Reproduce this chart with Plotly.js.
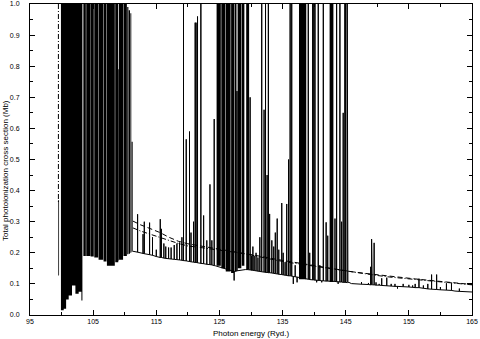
<!DOCTYPE html>
<html>
<head>
<meta charset="utf-8">
<script src="https://cdn.plot.ly/plotly-3.0.1.min.js"></script>
<style>
  html, body { margin: 0; padding: 0; background: #fff; }
  #chart { width: 480px; height: 339px; }
</style>
</head>
<body>
<div id="chart"></div>
<script>
// Dense, unresolved resonance clusters (drawn as solid black): energy span, bottom and top
const bandFrom = [99.48, 99.90, 100.34, 100.72, 101.13, 101.65, 102.19, 102.71, 103.14,
  103.45, 103.91, 104.60, 105.18, 105.86, 106.65, 107.18, 108.50, 109.00, 109.10, 109.81,
  110.40, 110.64, 110.90, 111.10, 124.55, 125.30, 126.00, 126.85, 127.40, 127.88, 128.55,
  129.25, 137.60, 142.45];
const bandTo = [99.60, 100.34, 100.72, 101.13, 101.65, 102.19, 102.71, 103.14, 103.30,
  103.84, 104.55, 105.10, 105.79, 106.58, 107.11, 108.43, 108.98, 109.08, 109.74, 110.34,
  110.58, 110.84, 111.04, 111.26, 125.22, 125.92, 126.77, 127.32, 127.70, 128.47, 128.95,
  129.70, 138.75, 143.05];
const bandLow = [0.127, 0.015, 0.02, 0.05, 0.063, 0.095, 0.068, 0.075, 0.047,
  0.19, 0.19, 0.188, 0.185, 0.178, 0.172, 0.158, 0.17, 0.175, 0.178, 0.19,
  0.195, 0.197, 0.2, 0.203, 0.158, 0.15, 0.14, 0.135, 0.14, 0.15, 0.158,
  0.146, 0.115, 0.106];
const bandHigh = [0.37, 1, 1, 1, 1, 1, 1, 1, 1,
  1, 1, 1, 1, 1, 1, 1, 1, 0.79, 1, 1,
  0.99, 0.98, 0.97, 0.557, 1, 1, 1, 1, 1, 1, 1,
  1, 1, 1];

// Solid curve: energy, background under the line, tip of the resonance
const solidE = [111.3, 112.04, 112.9, 113.1, 113.94, 114.4, 115.0, 115.63, 115.8, 116.2,
  116.5, 116.95, 117.35, 117.84, 118.27, 118.68, 119.06, 119.31, 119.74, 120.26,
  120.5, 120.9, 121.16, 121.3, 121.53, 122.06, 122.5, 123.0, 123.5, 123.8,
  124.17, 124.4, 127.33, 127.78, 129.1, 129.43, 129.86, 130.1, 130.3, 130.5,
  130.8, 131.1, 131.4, 131.7, 132.07, 132.3, 132.55, 132.75, 132.95, 133.3,
  133.6, 133.85, 134.15, 134.4, 134.87, 135.1, 135.4, 135.66, 135.95, 136.2,
  136.45, 136.7, 137.0, 137.3, 139.07, 139.3, 139.77, 139.95, 140.13, 140.4,
  140.65, 140.9, 141.2, 141.45, 141.9, 142.15, 143.3, 143.56, 143.8, 144.08,
  144.35, 144.6, 144.87, 145.0, 145.24, 145.35, 145.5, 145.9, 147.5, 148.6,
  148.95, 149.1, 149.2, 149.5, 149.8, 150.3, 150.7, 151.5, 152.2, 152.8,
  153.2, 154.1, 155.0, 155.6, 156.0, 156.6, 157.3, 158.0, 158.6, 159.4,
  160.0, 160.95, 161.75, 162.3, 163.0, 165.0];
const solidLow = [0.205, 0.202, 0.198, 0.197, 0.194, 0.192, 0.188, 0.185, 0.185, 0.183,
  0.182, 0.181, 0.180, 0.179, 0.178, 0.177, 0.176, 0.175, 0.174, 0.172,
  0.171, 0.170, 0.169, 0.169, 0.168, 0.166, 0.165, 0.163, 0.162, 0.161,
  0.159, 0.158, 0.140, 0.142, 0.146, 0.146, 0.145, 0.144, 0.144, 0.143,
  0.142, 0.141, 0.140, 0.139, 0.138, 0.137, 0.137, 0.136, 0.136, 0.135,
  0.134, 0.133, 0.132, 0.131, 0.130, 0.129, 0.128, 0.127, 0.126, 0.126,
  0.125, 0.124, 0.123, 0.122, 0.115, 0.114, 0.113, 0.113, 0.112, 0.112,
  0.111, 0.111, 0.110, 0.110, 0.109, 0.109, 0.108, 0.107, 0.107, 0.106,
  0.106, 0.105, 0.105, 0.105, 0.104, 0.104, 0.105, 0.101, 0.099, 0.098,
  0.097, 0.097, 0.097, 0.097, 0.096, 0.096, 0.095, 0.094, 0.093, 0.092,
  0.092, 0.091, 0.090, 0.089, 0.088, 0.088, 0.086, 0.084, 0.083, 0.082,
  0.081, 0.080, 0.079, 0.077, 0.076, 0.074];
const solidHigh = [0.205, 0.324, 0.26, 0.30, 0.297, 0.25, 0.21, 0.308, 0.277, 0.23,
  0.22, 0.217, 0.217, 0.225, 0.23, 0.233, 0.25, 1.0, 0.565, 0.59,
  0.265, 0.30, 0.94, 0.94, 0.96, 1.0, 0.32, 0.24, 0.42, 0.24,
  0.63, 0.158, 0.111, 0.72, 0.146, 1.0, 0.70, 0.19, 0.22, 0.19,
  0.20, 0.185, 0.25, 1.0, 0.66, 1.0, 0.45, 1.0, 0.325, 0.24,
  0.22, 0.265, 0.31, 0.21, 0.36, 0.20, 0.17, 0.357, 0.5, 1.0,
  1.0, 0.10, 0.16, 0.105, 1.0, 0.2, 1.0, 1.0, 1.0, 0.105,
  1.0, 0.16, 0.105, 1.0, 0.298, 0.255, 0.31, 1.0, 0.10, 1.0,
  0.30, 0.65, 1.0, 1.0, 1.0, 1.0, 0.105, 0.101, 0.106, 0.103,
  0.155, 0.244, 0.13, 0.232, 0.105, 0.10, 0.118, 0.12, 0.10, 0.10,
  0.085, 0.10, 0.097, 0.095, 0.10, 0.117, 0.095, 0.10, 0.13, 0.13,
  0.09, 0.102, 0.102, 0.077, 0.085, 0.074];

// Dashed curve (hidden inside the black cluster below 111 Ryd)
const dashE = [111.3, 111.5, 112.5, 114, 115.6, 117, 118.5, 120, 122, 124, 126, 128, 130,
  132, 134, 136, 138, 140, 142, 144, 146, 148, 150, 152, 154, 156, 158, 160, 162, 164, 165];
const dashY = [0.302, 0.30, 0.29, 0.278, 0.265, 0.25, 0.237, 0.229, 0.222, 0.216, 0.21,
  0.203, 0.196, 0.187, 0.179, 0.172, 0.166, 0.16, 0.153, 0.146, 0.139, 0.134, 0.129,
  0.124, 0.12, 0.116, 0.112, 0.108, 0.104, 0.1, 0.098];

// Dash-dot curve (its first resonance at 99.5 Ryd, then the visible background)
const dotE = [99.5, 99.5, null, 111.3, 111.5, 112.5, 114, 115.6, 117, 118.5, 120, 122, 124,
  126, 128, 130, 132, 134, 136, 138, 140, 142, 144, 146, 148, 150, 152, 154, 156, 158,
  160, 162, 164, 165];
const dotY = [1.0, 0.36, null, 0.28, 0.278, 0.27, 0.26, 0.248, 0.24, 0.23, 0.222, 0.217,
  0.212, 0.206, 0.2, 0.193, 0.184, 0.176, 0.169, 0.163, 0.157, 0.15, 0.143, 0.137, 0.132,
  0.127, 0.122, 0.118, 0.114, 0.11, 0.106, 0.102, 0.099, 0.097];

// tick positions
const xTicks = [95, 105, 115, 125, 135, 145, 155, 165];
const yTicks = [0, 0.1, 0.2, 0.3, 0.4, 0.5, 0.6, 0.7, 0.8, 0.9, 1.0];
const yTickText = ['0.0', '0.1', '0.2', '0.3', '0.4', '0.5', '0.6', '0.7', '0.8', '0.9', '1.0'];

// build the filled blocks, one closed rectangle per cluster
const bx = [], by = [];
bandFrom.forEach((e0, i) => {
  const e1 = bandTo[i];
  bx.push(e0, e1, e1, e0, e0, null);
  by.push(bandLow[i], bandLow[i], bandHigh[i], bandHigh[i], bandLow[i], null);
});

// build the solid line: background, up to the tip, back down
const sx = [], sy = [];
solidE.forEach((e, i) => {
  sx.push(e); sy.push(solidLow[i]);
  if (solidHigh[i] !== solidLow[i]) {
    sx.push(e, e); sy.push(solidHigh[i], solidLow[i]);
  }
});

const font = 'Liberation Sans, Arial, Helvetica, sans-serif';

const traces = [
  { x: bx, y: by, type: 'scatter', mode: 'lines', fill: 'toself',
    fillcolor: '#000', line: { width: 0, color: '#000' }, hoverinfo: 'skip' },
  { x: sx, y: sy, type: 'scatter', mode: 'lines',
    line: { color: '#000', width: 1 } },
  { x: dashE, y: dashY, type: 'scatter', mode: 'lines',
    line: { color: '#000', width: 1, dash: '5px,3px' } },
  { x: dotE, y: dotY, type: 'scatter', mode: 'lines', connectgaps: false,
    line: { color: '#000', width: 1, dash: '5px,2px,1px,2px' } }
];

const axisBase = {
  showline: true, linecolor: '#000', linewidth: 1, mirror: 'ticks',
  ticks: 'inside', ticklen: 5, tickwidth: 1, tickcolor: '#000',
  showgrid: false, zeroline: false, fixedrange: true, ticklabeloverflow: 'allow',
  tickfont: { family: font, size: 7, color: '#000' }
};

const layout = {
  width: 480, height: 339,
  margin: { l: 30, r: 8, t: 4, b: 24 },
  paper_bgcolor: '#fff', plot_bgcolor: '#fff',
  showlegend: false,
  xaxis: Object.assign({}, axisBase, {
    range: [95, 165], tickmode: 'array', tickvals: xTicks,
    minor: { dtick: 5, tick0: 95, ticks: 'inside', ticklen: 3, tickcolor: '#000' }
  }),
  yaxis: Object.assign({}, axisBase, {
    range: [0, 1], tickmode: 'array', tickvals: yTicks, ticktext: yTickText,
    ticklabelstandoff: 8,
    minor: { dtick: 0.05, tick0: 0, ticks: 'inside', ticklen: 3, tickcolor: '#000' }
  }),
  annotations: [
    { text: 'Photon energy (Ryd.)', xref: 'paper', yref: 'paper', x: 0.5, y: 0,
      xanchor: 'center', yanchor: 'middle', yshift: -18, showarrow: false,
      font: { family: font, size: 8, color: '#000' } },
    { text: 'Total photoionization cross section (Mb)', xref: 'paper', yref: 'paper',
      x: 0, y: 0.463, xanchor: 'center', yanchor: 'middle', xshift: -25,
      textangle: -90, showarrow: false,
      font: { family: font, size: 8, color: '#000' } }
  ]
};

Plotly.newPlot('chart', traces, layout, { staticPlot: true, displayModeBar: false });
</script>
</body>
</html>
